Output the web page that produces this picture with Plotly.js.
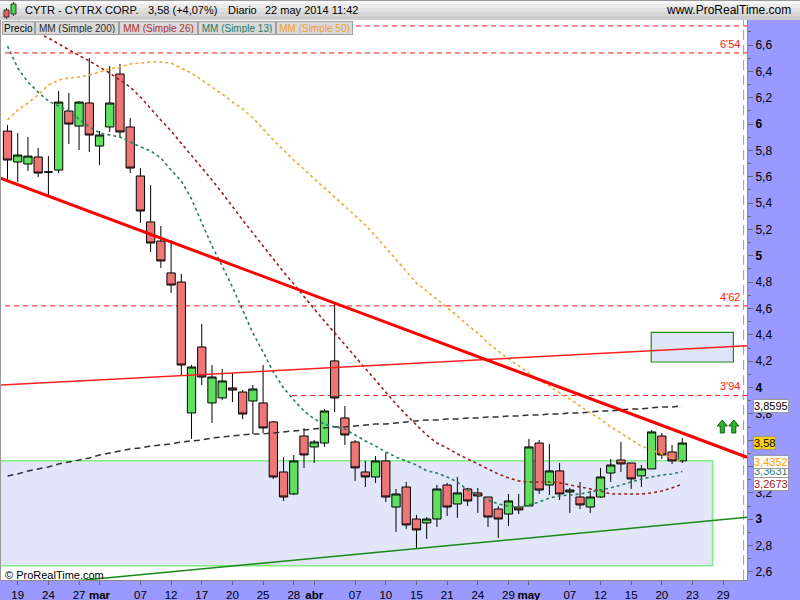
<!DOCTYPE html>
<html><head><meta charset="utf-8">
<script src="https://cdn.plot.ly/plotly-3.0.1.min.js"></script>
<style>html,body{margin:0;padding:0;background:#fff}#chart{width:800px;height:600px}</style>
</head><body><div id="chart"></div>
<script>
// Trading sessions (last five are future sessions shown on the axis only)
const sessions = [
 '2014-02-18','2014-02-19','2014-02-20','2014-02-21','2014-02-24','2014-02-25','2014-02-26','2014-02-27','2014-02-28',
 '2014-03-03','2014-03-04','2014-03-05','2014-03-06','2014-03-07','2014-03-10','2014-03-11','2014-03-12','2014-03-13','2014-03-14',
 '2014-03-17','2014-03-18','2014-03-19','2014-03-20','2014-03-21','2014-03-24','2014-03-25','2014-03-26','2014-03-27','2014-03-28','2014-03-31',
 '2014-04-01','2014-04-02','2014-04-03','2014-04-04','2014-04-07','2014-04-08','2014-04-09','2014-04-10','2014-04-11','2014-04-14',
 '2014-04-15','2014-04-16','2014-04-17','2014-04-21','2014-04-22','2014-04-23','2014-04-24','2014-04-25','2014-04-28','2014-04-29','2014-04-30',
 '2014-05-01','2014-05-02','2014-05-05','2014-05-06','2014-05-07','2014-05-08','2014-05-09','2014-05-12','2014-05-13','2014-05-14',
 '2014-05-15','2014-05-16','2014-05-19','2014-05-20','2014-05-21','2014-05-22',
 '2014-05-23','2014-05-27','2014-05-28','2014-05-29','2014-05-30'
];

const open  = [5.947,5.712,5.697,5.750,5.636,5.651,6.099,5.985,6.160,5.833,5.978,6.380,5.978,5.606,5.257,5.112,4.870,4.801,3.807,4.308,
               3.883,3.921,3.997,3.966,3.898,3.883,3.739,3.359,3.192,3.632,3.549,3.579,4.202,3.769,3.587,3.359,3.321,3.443,3.093,3.245,
               3.002,2.972,3.002,3.260,3.116,3.230,3.200,3.169,3.078,3.040,3.093,3.101,3.579,3.260,3.367,3.207,3.169,3.093,3.169,3.351,
               3.450,3.427,3.329,3.382,3.632,3.511,3.443];
const high  = [5.993,5.932,5.902,5.818,5.757,6.251,6.236,6.175,6.501,5.947,6.441,6.456,6.046,5.666,5.537,5.226,5.120,4.862,4.171,4.482,
               4.171,4.141,4.110,3.981,4.019,4.171,3.745,3.473,3.488,3.693,3.602,3.837,4.634,3.860,3.602,3.443,3.481,3.503,3.230,3.283,
               3.033,3.017,3.260,3.276,3.321,3.238,3.238,3.169,3.101,3.192,3.192,3.610,3.602,3.572,3.427,3.238,3.283,3.215,3.390,3.458,
               3.587,3.427,3.412,3.678,3.655,3.564,3.617];
const low   = [5.560,5.560,5.644,5.598,5.461,5.628,5.849,5.803,5.788,5.689,5.940,5.902,5.628,5.249,5.029,4.908,4.718,4.095,3.610,4.019,
               3.731,3.905,3.890,3.761,3.648,3.655,3.306,3.139,3.184,3.390,3.427,3.549,3.814,3.564,3.291,3.245,3.276,3.131,2.904,2.927,
               2.782,2.851,2.942,3.025,3.010,3.101,3.048,2.942,2.858,2.949,3.040,3.101,3.192,3.184,3.146,3.048,3.078,3.048,3.162,3.283,
               3.359,3.230,3.245,3.382,3.458,3.420,3.427];
const close = [5.727,5.765,5.757,5.628,5.636,6.167,6.000,6.167,5.917,5.917,6.160,5.940,5.666,5.340,5.097,4.961,4.778,4.171,4.156,4.080,
               4.080,4.050,3.981,3.799,3.989,3.693,3.321,3.169,3.443,3.488,3.587,3.822,3.921,3.640,3.390,3.321,3.443,3.169,3.192,2.957,
               2.919,3.002,3.230,3.093,3.200,3.139,3.177,3.017,3.002,3.139,3.071,3.549,3.222,3.367,3.192,3.222,3.109,3.169,3.321,3.412,
               3.420,3.306,3.382,3.663,3.488,3.443,3.579];

const ma200 = [3.329,3.344,3.367,3.382,3.397,3.420,3.435,3.450,3.465,3.488,3.503,3.518,3.534,3.541,3.556,3.564,3.572,3.587,3.594,3.602,
               3.617,3.625,3.632,3.640,3.648,3.648,3.655,3.663,3.670,3.678,3.686,3.693,3.701,3.701,3.708,3.716,3.723,3.723,3.731,3.739,
               3.746,3.754,3.754,3.761,3.761,3.769,3.769,3.777,3.777,3.784,3.784,3.792,3.792,3.799,3.799,3.807,3.807,3.815,3.822,3.822,
               3.830,3.838,3.838,3.845,3.853,3.853,3.860];
const ma26  = [6.828,6.782,6.737,6.691,6.653,6.608,6.562,6.520,6.479,6.433,6.387,6.334,6.281,6.205,6.122,6.031,5.947,5.856,5.765,5.674,
               5.575,5.477,5.370,5.272,5.173,5.074,4.976,4.877,4.786,4.687,4.596,4.505,4.414,4.323,4.232,4.141,4.050,3.959,3.875,3.792,
               3.716,3.640,3.579,3.541,3.496,3.458,3.420,3.382,3.344,3.314,3.291,3.283,3.283,3.283,3.276,3.260,3.245,3.230,3.215,3.192,
               3.192,3.192,3.192,3.200,3.215,3.238,3.267];
const ma13  = [6.592,6.425,6.319,6.243,6.175,6.137,6.099,6.038,5.978,5.932,5.917,5.902,5.864,5.826,5.796,5.742,5.651,5.568,5.431,5.257,
               5.074,4.923,4.763,4.588,4.414,4.270,4.118,3.997,3.905,3.822,3.761,3.723,3.701,3.685,3.640,3.594,3.556,3.511,3.473,3.443,
               3.412,3.367,3.351,3.321,3.283,3.222,3.185,3.146,3.116,3.101,3.093,3.109,3.131,3.162,3.177,3.185,3.192,3.207,3.222,3.238,
               3.260,3.283,3.306,3.321,3.336,3.344,3.363];
const ma50  = [6.031,6.107,6.160,6.221,6.296,6.334,6.350,6.357,6.372,6.395,6.418,6.433,6.456,6.463,6.471,6.471,6.463,6.425,6.387,6.334,
               6.281,6.228,6.167,6.114,6.046,5.962,5.879,5.803,5.727,5.659,5.583,5.515,5.446,5.378,5.310,5.234,5.150,5.059,4.968,4.877,
               4.793,4.733,4.672,4.611,4.543,4.475,4.414,4.338,4.277,4.217,4.164,4.110,4.057,4.012,3.959,3.913,3.860,3.807,3.761,3.701,
               3.655,3.602,3.556,3.526,3.496,3.465,3.435];

// x-axis tick labels (date -> label)
const tickDates  = ['2014-02-19','2014-02-24','2014-02-27','2014-03-03','2014-03-07','2014-03-12','2014-03-17','2014-03-20','2014-03-25','2014-03-28',
                    '2014-04-01','2014-04-07','2014-04-10','2014-04-15','2014-04-21','2014-04-24','2014-04-29','2014-05-01','2014-05-07','2014-05-12',
                    '2014-05-15','2014-05-20','2014-05-23','2014-05-29'];
const tickLabels = ['19','24','27','<b>mar</b>','07','12','17','20','25','28',
                    '<b>abr</b>','07','10','15','21','24','29','<b>may</b>','07','12',
                    '15','20','23','29'];
// y-axis ticks (3,4 and 3,6 sit under the last-value boxes)
const yTickVals = [2.6,2.8,3.0,3.2,3.4,3.6,3.8,4.0,4.2,4.4,4.6,4.8,5.0,5.2,5.4,5.6,5.8,6.0,6.2,6.4,6.6];
const yTickText = ['2,6','2,8','<b>3</b>','3,2','','','3,8','<b>4</b>','4,2','4,4','4,6','4,8','<b>5</b>','5,2','5,4','5,6','5,8','<b>6</b>','6,2','6,4','6,6'];

// horizontal price levels
const levelVals   = [6.745, 6.54, 4.62, 3.94];
const levelLabels = ['', "6'54", "4'62", "3'94"];
const levelFrom   = [-2, -2, -2, 27.84];   // session index where the level starts

// drawn trend lines: [index0, value0, index1, value1]
const trendThick = [-0.73, 5.590, 72.33, 3.471];
const trendThin  = [-0.73, 4.018, 72.33, 4.318];
const trendGreen = [5.79, 2.526, 72.33, 3.015];
// zones: [index0, index1, low, high]
const zoneBig   = [-2, 68.96, 2.648, 3.445];
const zoneSmall = [62.96, 71.0, 4.194, 4.419];

// last-value labels on the price axis (drawn in this order)
const lastLabelVals  = [3.8595, 3.58, 3.3631, 3.4352, 3.2673];
const lastLabelTexts = ['3,8595', '3,58', '3,3631', '3,4352', '3,2673'];
const lastLabelColor = ['#000000', '#000000', '#1f7f6a', '#f5a000', '#a01818'];
const lastLabelBg    = ['#ffffff', '#f8d018', '#ffffff', '#ffffff', '#ffffff'];

const n = close.length;
const xi = close.map((_, i) => i);
const idxOf = d => sessions.indexOf(d);

const L = 1, W = 745.7, T = 20, H = 560;
const PX = p => (p - L) / W;
const PY = p => (T + H - p) / H;
const FONT = '"Liberation Sans", Arial, sans-serif';

const traces = [
  { type:'candlestick', x:xi, open:open, high:high, low:low, close:close, hoverinfo:'skip',
    increasing:{ fillcolor:'#5fe05f', line:{ color:'#000', width:1 } },
    decreasing:{ fillcolor:'#ef7676', line:{ color:'#000', width:1 } }, whiskerwidth:0 },
  { type:'scatter', mode:'lines', x:xi, y:ma200, line:{ color:'#333333', width:1.5, dash:'6px,4px' }, hoverinfo:'skip' },
  { type:'scatter', mode:'lines', x:xi, y:ma50,  line:{ color:'#f7a330', width:1.6, dash:'3px,3px' }, hoverinfo:'skip' },
  { type:'scatter', mode:'lines', x:xi, y:ma26,  line:{ color:'#a01c1c', width:1.6, dash:'3px,3px' }, hoverinfo:'skip' },
  { type:'scatter', mode:'lines', x:xi, y:ma13,  line:{ color:'#2a7d5e', width:1.6, dash:'3px,3px' }, hoverinfo:'skip' }
];

const shapes = [];
// zones
shapes.push({ type:'rect', layer:'below', xref:'x', yref:'y', x0:zoneBig[0], x1:zoneBig[1], y0:zoneBig[2], y1:zoneBig[3],
  fillcolor:'#e1e6f9', line:{ color:'#80f080', width:1.5 } });
shapes.push({ type:'rect', layer:'below', xref:'x', yref:'y', x0:zoneSmall[0], x1:zoneSmall[1], y0:zoneSmall[2], y1:zoneSmall[3],
  fillcolor:'#dfe5f8', line:{ color:'#1a8a1a', width:1.2 } });
// levels
levelVals.forEach((v, k) => shapes.push({ type:'line', layer:'below', xref:'x', yref:'y', x0:levelFrom[k], x1:80, y0:v, y1:v,
  line:{ color:'#ff1010', width:1, dash:'5px,4px' } }));
// vertical marker
shapes.push({ type:'line', layer:'above', xref:'x', yref:'paper', x0:72.0, x1:72.0, y0:0, y1:1,
  line:{ color:'#7b96ea', width:1, dash:'10px,5px' } });
// trend lines
shapes.push({ type:'line', layer:'above', xref:'x', yref:'y', x0:trendThin[0], y0:trendThin[1], x1:trendThin[2], y1:trendThin[3],
  line:{ color:'#ff2020', width:1.5 } });
shapes.push({ type:'line', layer:'above', xref:'x', yref:'y', x0:trendGreen[0], y0:trendGreen[1], x1:trendGreen[2], y1:trendGreen[3],
  line:{ color:'#168a16', width:1.5 } });
shapes.push({ type:'line', layer:'above', xref:'x', yref:'y', x0:trendThick[0], y0:trendThick[1], x1:trendThick[2], y1:trendThick[3],
  line:{ color:'#ff0000', width:3 } });
// two green up arrows
[69.91, 71.04].forEach(ax => shapes.push({ type:'path', layer:'above', xref:'x', yref:'y',
  xsizemode:'pixel', ysizemode:'pixel', xanchor:ax, yanchor:3.655,
  path:'M-2,0 L2,0 L2,7 L5,7 L0,13 L-5,7 L-2,7 Z', fillcolor:'#2fb52f', line:{ color:'#0d5e0d', width:1 } }));
// header gradient
const hdr = ['#f6f6f6','#ebebeb','#e0e0e0','#d6d6d6','#cccccc'];
hdr.forEach((c, k) => shapes.push({ type:'rect', layer:'above', xref:'paper', yref:'paper',
  x0:PX(0), x1:PX(800), y0:PY(4*(k+1)), y1:PY(4*k), fillcolor:c, line:{ width:0 } }));
shapes.push({ type:'line', layer:'above', xref:'paper', yref:'paper', x0:PX(0), x1:PX(800), y0:PY(0.5), y1:PY(0.5), line:{ color:'#9a9a9a', width:1 } });
shapes.push({ type:'line', layer:'above', xref:'paper', yref:'paper', x0:PX(0.5), x1:PX(0.5), y0:PY(580), y1:PY(20), line:{ color:'#9a9a9a', width:1 } });
// header icon (small candles)
shapes.push({ type:'line', layer:'above', xref:'paper', yref:'paper', x0:PX(6.5), x1:PX(6.5), y0:PY(19), y1:PY(8), line:{ color:'#333', width:1 } });
shapes.push({ type:'rect', layer:'above', xref:'paper', yref:'paper', x0:PX(4), x1:PX(9), y0:PY(17), y1:PY(10), fillcolor:'#e86060', line:{ color:'#333', width:1 } });
shapes.push({ type:'line', layer:'above', xref:'paper', yref:'paper', x0:PX(13.5), x1:PX(13.5), y0:PY(16), y1:PY(2), line:{ color:'#333', width:1 } });
shapes.push({ type:'rect', layer:'above', xref:'paper', yref:'paper', x0:PX(11), x1:PX(16), y0:PY(14), y1:PY(4), fillcolor:'#4fd84f', line:{ color:'#333', width:1 } });

const annotations = [];
// header texts
const hdrTexts = [['CYTR - CYTRX CORP.', 23, 'left', 11], ['3,58 (+4,07%)', 146, 'left', 11], ['Diario', 226, 'left', 11],
                  ['22 may 2014 11:42', 263, 'left', 11], ['www.ProRealTime.com', 793, 'right', 12]];
hdrTexts.forEach(h => annotations.push({ xref:'paper', yref:'paper', x:PX(h[1]), y:PY(10.5), xanchor:h[2], yanchor:'middle',
  text:h[0], showarrow:false, font:{ family:FONT, size:h[3], color:'#000' } }));
// legend row
const legItems = [['Precio', 2, 33, '#000000'], ['MM (Simple 200)', 35, 84, '#2a2a2a'], ['MM (Simple 26)', 119, 79, '#b03030'],
                  ['MM (Simple 13)', 198, 78, '#1f7f6a'], ['MM (Simple 50)', 276, 77, '#f0a030']];
legItems.forEach(it => annotations.push({ xref:'paper', yref:'paper', x:PX(it[1]), y:PY(21), xanchor:'left', yanchor:'top',
  text:it[0], showarrow:false, width:it[2]-4, height:10, borderpad:1, borderwidth:1, bordercolor:'#a0a0a0', bgcolor:'#d8d8d8',
  font:{ family:FONT, size:10, color:it[3] } }));
// level labels
levelVals.forEach((v, k) => { if (levelLabels[k]) annotations.push({ xref:'paper', yref:'y', x:PX(742), y:v, xanchor:'right', yanchor:'bottom',
  yshift:1, text:levelLabels[k], showarrow:false, font:{ family:FONT, size:11, color:'#ff2020' } }); });
// last value labels
lastLabelVals.forEach((v, k) => annotations.push({ xref:'paper', yref:'y', x:1, xshift:6, y:v, xanchor:'left', yanchor:'middle',
  text:lastLabelTexts[k], showarrow:false, bgcolor:lastLabelBg[k], bordercolor:'#9a9a9a', borderwidth:1, borderpad:0,
  font:{ family:FONT, size:11, color:lastLabelColor[k] } }));
// copyright
annotations.push({ xref:'paper', yref:'paper', x:PX(3), y:PY(575), xanchor:'left', yanchor:'middle', text:'© ProRealTime.com',
  showarrow:false, font:{ family:FONT, size:11, color:'#000' } });

const layout = {
  width:800, height:600,
  margin:{ l:L, r:800 - L - W, t:T, b:600 - T - H, pad:0 },
  paper_bgcolor:'#9999ff', plot_bgcolor:'#ffffff',
  showlegend:false,
  font:{ family:FONT, size:11, color:'#000' },
  boxgap:0.1, boxgroupgap:0.1,
  xaxis:{ range:[-0.636, 72.33], tickmode:'array', tickvals:tickDates.map(idxOf), ticktext:tickLabels,
    ticks:'outside', ticklen:4, tickcolor:'#666', showgrid:false, zeroline:false, showline:true, linecolor:'#8a8a8a',
    rangeslider:{ visible:false }, fixedrange:true, tickfont:{ family:FONT, size:11.5, color:'#000' } },
  yaxis:{ side:'right', range:[2.539, 6.79], tickmode:'array', tickvals:yTickVals, ticktext:yTickText,
    ticks:'outside', ticklen:5, tickcolor:'#666', showgrid:false, zeroline:false, showline:true, linecolor:'#8a8a8a',
    minor:{ ticks:'outside', ticklen:3, tickcolor:'#666', tick0:0, dtick:0.1, showgrid:false },
    fixedrange:true, tickfont:{ family:FONT, size:12, color:'#000' } },
  shapes:shapes, annotations:annotations
};

Plotly.newPlot('chart', traces, layout, { staticPlot:true, displayModeBar:false });
</script>
</body></html>
